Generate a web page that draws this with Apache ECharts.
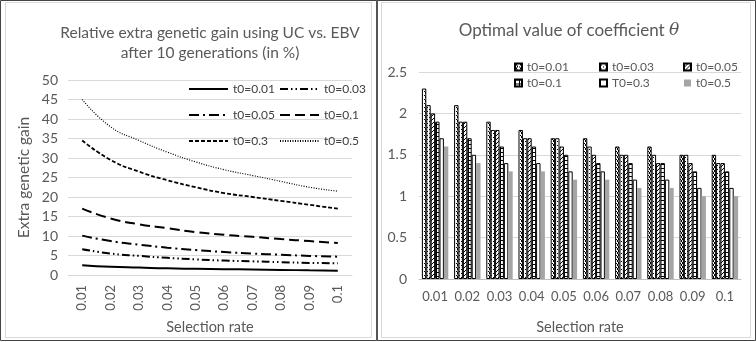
<!DOCTYPE html>
<html>
<head>
<meta charset="utf-8">
<script src="https://cdn.jsdelivr.net/npm/echarts@6/dist/echarts.min.js"></script>
<style>
  html, body { margin: 0; padding: 0; background: #fff; }
  #main { width: 756px; height: 342px; }
</style>
</head>
<body>
<div id="main"></div>
<script>
// selection rates (shared by both panels)
const rates = ['0.01', '0.02', '0.03', '0.04', '0.05', '0.06', '0.07', '0.08', '0.09', '0.1']

// left panel: extra genetic gain (%)
const gain001 = [2.5, 2.1, 1.9, 1.7, 1.6, 1.5, 1.4, 1.3, 1.2, 1.1]
const gain003 = [6.6, 5.5, 4.9, 4.4, 4.0, 3.7, 3.5, 3.3, 3.1, 3.0]
const gain005 = [10.1, 8.7, 7.8, 7.0, 6.4, 5.9, 5.5, 5.2, 4.9, 4.7]
const gain01 = [17, 14.5, 13, 12, 11, 10.3, 9.8, 9.2, 8.7, 8.2]
const gain03 = [34.5, 29.5, 26.5, 24.3, 22.5, 21, 20, 19, 18, 17]
const gain05 = [45, 38, 34.5, 31.5, 29, 27, 25.5, 24, 22.5, 21.5]

// right panel: optimal theta
const theta001 = [2.3, 2.1, 1.9, 1.8, 1.7, 1.7, 1.6, 1.6, 1.5, 1.5]
const theta003 = [2.1, 1.9, 1.8, 1.7, 1.7, 1.6, 1.5, 1.5, 1.5, 1.4]
const theta005 = [2.0, 1.9, 1.8, 1.7, 1.6, 1.5, 1.5, 1.4, 1.4, 1.4]
const theta01 = [1.9, 1.7, 1.6, 1.6, 1.5, 1.4, 1.4, 1.4, 1.3, 1.3]
const theta03 = [1.7, 1.5, 1.4, 1.4, 1.3, 1.3, 1.2, 1.2, 1.1, 1.1]
const theta05 = [1.6, 1.4, 1.3, 1.3, 1.2, 1.2, 1.1, 1.1, 1.0, 1.0]

const gray = '#595959'
const font = 'Lato, "Open Sans", sans-serif'

// small canvas patterns for the bar fills
function pattern(draw) {
    const c = document.createElement('canvas')
    c.width = 4
    c.height = 4
    const ctx = c.getContext('2d')
    ctx.fillStyle = '#fff'
    ctx.fillRect(0, 0, 4, 4)
    ctx.fillStyle = '#000'
    draw(ctx)
    return { image: c, repeat: 'repeat' }
}
const patDense = pattern(ctx => { ctx.fillRect(1, 0, 1, 2); ctx.fillRect(2, 2, 1, 2); ctx.fillRect(0, 3, 1, 1) })
const patDots = pattern(ctx => { ctx.fillRect(1, 1, 1, 1); ctx.fillRect(3, 3, 1, 1) })
const patDiag = pattern(ctx => { ctx.fillRect(3, 0, 1, 1); ctx.fillRect(2, 1, 1, 1); ctx.fillRect(1, 2, 1, 1); ctx.fillRect(0, 3, 1, 1) })
const patGrid = pattern(ctx => { ctx.fillRect(0, 0, 4, 1); ctx.fillRect(0, 0, 1, 4) })

const mycharts = echarts.init(document.getElementById('main'))

function lineSeries(name, data, type, width) {
    return {
        name: name,
        type: 'line',
        xAxisIndex: 0,
        yAxisIndex: 0,
        data: data,
        smooth: true,
        symbol: 'none',
        lineStyle: { color: '#000', width: width, type: type },
        itemStyle: { color: '#000' }
    }
}
function barSeries(name, data, fill, border) {
    return {
        name: name,
        type: 'bar',
        xAxisIndex: 1,
        yAxisIndex: 1,
        data: data,
        barGap: '0%',
        barCategoryGap: '18%',
        itemStyle: {
            color: fill,
            borderColor: border ? '#000' : 'transparent',
            borderWidth: border ? 1 : 0
        }
    }
}

const lineLegend = {
    orient: 'vertical', top: 78, itemWidth: 39, itemHeight: 14, itemGap: 14,
    itemStyle: { opacity: 0 },
    textStyle: { color: '#404040', fontSize: 12 }
}
const barLegend = {
    orient: 'vertical', top: 56, itemWidth: 7, itemHeight: 7, itemGap: 4, icon: 'rect',
    textStyle: { color: gray, fontSize: 12 }
}

mycharts.setOption({
    animation: false,
    textStyle: { fontFamily: font },
    graphic: [
        { type: 'rect', shape: { x: 0.5, y: 0.5, width: 755, height: 340 }, style: { fill: 'none', stroke: '#444', lineWidth: 1 } },
        { type: 'rect', shape: { x: 376, y: 0, width: 2, height: 341 }, style: { fill: '#555' } },
        { type: 'rect', shape: { x: 5.5, y: 2.5, width: 366, height: 335 }, style: { fill: 'none', stroke: '#d9d9d9', lineWidth: 1 } },
        { type: 'rect', shape: { x: 381.5, y: 2.5, width: 369, height: 335 }, style: { fill: 'none', stroke: '#d9d9d9', lineWidth: 1 } }
    ],
    title: [
        {
            text: 'Relative extra genetic gain using UC vs. EBV\nafter 10 generations (in %)',
            left: 205,
            top: 18,
            textAlign: 'center',
            textStyle: { color: gray, fontSize: 15.5, fontWeight: 'normal', lineHeight: 20, fontFamily: font }
        },
        {
            text: 'Optimal value of coefficient {i|θ}',
            left: 564,
            top: 17,
            textAlign: 'center',
            textStyle: {
                color: gray, fontSize: 17, fontWeight: 'normal', fontFamily: font,
                rich: { i: { fontStyle: 'italic', fontSize: 17, color: gray, fontFamily: 'DejaVu Serif' } }
            }
        }
    ],
    legend: [
        Object.assign({ left: 183, data: ['t0=0.01', 't0=0.05', 't0=0.3'] }, lineLegend),
        Object.assign({ left: 274, data: ['t0=0.03', 't0=0.1', 't0=0.5'] }, lineLegend),
        Object.assign({ left: 509, data: ['t0=0.01 ', 't0=0.1 '] }, barLegend),
        Object.assign({ left: 594, data: ['t0=0.03 ', 'T0=0.3'] }, barLegend),
        Object.assign({ left: 678, data: ['t0=0.05 ', 't0=0.5 '] }, barLegend)
    ],
    grid: [
        { left: 68, right: 404, top: 80, bottom: 67 },
        { left: 419, right: 15, top: 72, bottom: 63 }
    ],
    xAxis: [
        {
            type: 'category', gridIndex: 0, data: rates, boundaryGap: true,
            axisLine: { lineStyle: { color: '#d9d9d9' } },
            axisTick: { show: false },
            axisLabel: { rotate: 90, color: gray, fontSize: 13, margin: 10, interval: 0 },
            name: 'Selection rate', nameLocation: 'middle', nameGap: 45,
            nameTextStyle: { color: gray, fontSize: 14.5 }
        },
        {
            type: 'category', gridIndex: 1, data: rates,
            axisLine: { lineStyle: { color: '#bfbfbf' } },
            axisTick: { show: false },
            axisLabel: { color: gray, fontSize: 13, margin: 11, interval: 0 },
            name: 'Selection rate', nameLocation: 'middle', nameGap: 41,
            nameTextStyle: { color: gray, fontSize: 14.5 }
        }
    ],
    yAxis: [
        {
            type: 'value', gridIndex: 0, min: 0, max: 50, interval: 5,
            axisLine: { show: false }, axisTick: { show: false },
            axisLabel: { color: gray, fontSize: 14, margin: 10 },
            splitLine: { lineStyle: { color: '#d9d9d9' } },
            name: 'Extra genetic gain', nameLocation: 'middle', nameGap: 36,
            nameTextStyle: { color: gray, fontSize: 15.5 }
        },
        {
            type: 'value', gridIndex: 1, min: 0, max: 2.5, interval: 0.5,
            axisLine: { show: false }, axisTick: { show: false },
            axisLabel: { color: gray, fontSize: 14, margin: 12 },
            splitLine: { lineStyle: { color: '#d9d9d9' } }
        }
    ],
    series: [
        lineSeries('t0=0.01', gain001, 'solid', 2),
        lineSeries('t0=0.03', gain003, [8, 3, 1.5, 3, 1.5, 3], 2),
        lineSeries('t0=0.05', gain005, [10, 4, 2, 4], 2),
        lineSeries('t0=0.1', gain01, [10, 5], 2),
        lineSeries('t0=0.3', gain03, [4, 2], 1.8),
        lineSeries('t0=0.5', gain05, [1, 1.5], 1.2),
        barSeries('t0=0.01 ', theta001, patDense, true),
        barSeries('t0=0.03 ', theta003, patDots, true),
        barSeries('t0=0.05 ', theta005, patDiag, true),
        barSeries('t0=0.1 ', theta01, patGrid, true),
        barSeries('T0=0.3', theta03, '#ffffff', true),
        barSeries('t0=0.5 ', theta05, '#a5a5a5', false)
    ]
})
</script>
</body>
</html>
